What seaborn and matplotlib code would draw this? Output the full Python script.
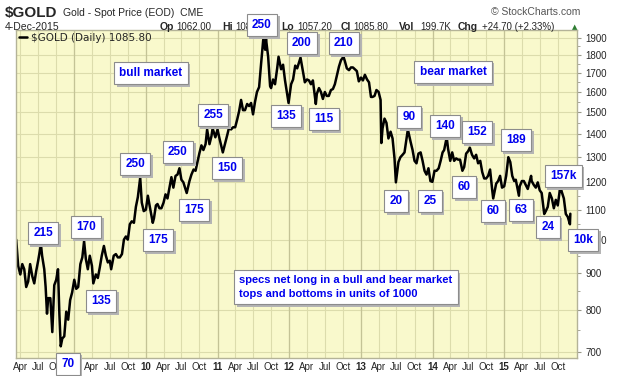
import matplotlib
matplotlib.use("Agg")
import matplotlib.pyplot as plt
import matplotlib.dates as mdates
from matplotlib.patches import Rectangle
from matplotlib.ticker import NullFormatter
import pandas as pd
import seaborn as sns

# gold spot (approx. three points a month)
gold_2008 = [("2008-03-11", 1000), ("2008-03-21", 920), ("2008-04-01", 895), ("2008-04-11", 925),
             ("2008-04-21", 910), ("2008-05-01", 860), ("2008-05-11", 875), ("2008-05-21", 925),
             ("2008-06-01", 890), ("2008-06-11", 870), ("2008-06-21", 905), ("2008-07-01", 935),
             ("2008-07-08", 960), ("2008-07-15", 985), ("2008-07-21", 950), ("2008-08-01", 910),
             ("2008-08-08", 860), ("2008-08-15", 790), ("2008-08-21", 830), ("2008-09-01", 830),
             ("2008-09-11", 745), ("2008-09-21", 865), ("2008-10-01", 880), ("2008-10-10", 910),
             ("2008-10-17", 790), ("2008-10-24", 712), ("2008-11-01", 730), ("2008-11-11", 735),
             ("2008-11-21", 795), ("2008-12-01", 775), ("2008-12-11", 825), ("2008-12-21", 845)]
gold_2009 = [("2009-01-01", 880), ("2009-01-11", 855), ("2009-01-21", 860), ("2009-02-01", 925),
             ("2009-02-11", 945), ("2009-02-20", 995), ("2009-03-01", 940), ("2009-03-11", 910),
             ("2009-03-21", 950), ("2009-04-01", 920), ("2009-04-08", 870), ("2009-04-21", 895),
             ("2009-05-01", 885), ("2009-05-11", 915), ("2009-05-21", 950), ("2009-06-01", 980),
             ("2009-06-11", 950), ("2009-06-21", 930), ("2009-07-01", 935), ("2009-07-08", 910),
             ("2009-07-21", 950), ("2009-08-01", 955), ("2009-08-11", 945), ("2009-08-21", 945),
             ("2009-09-01", 955), ("2009-09-11", 1000), ("2009-09-21", 1010), ("2009-10-01", 1000),
             ("2009-10-11", 1050), ("2009-10-21", 1060), ("2009-11-01", 1055), ("2009-11-11", 1110),
             ("2009-11-21", 1145), ("2009-12-03", 1218), ("2009-12-11", 1125), ("2009-12-21", 1095)]
gold_2010 = [("2010-01-01", 1100), ("2010-01-11", 1150), ("2010-01-21", 1110), ("2010-02-05", 1055),
             ("2010-02-11", 1070), ("2010-02-21", 1115), ("2010-03-01", 1120), ("2010-03-11", 1105),
             ("2010-03-21", 1105), ("2010-04-01", 1125), ("2010-04-11", 1155), ("2010-04-21", 1140),
             ("2010-05-01", 1180), ("2010-05-11", 1220), ("2010-05-21", 1180), ("2010-06-01", 1225),
             ("2010-06-11", 1230), ("2010-06-21", 1255), ("2010-07-01", 1210), ("2010-07-11", 1200),
             ("2010-07-28", 1160), ("2010-08-11", 1205), ("2010-08-21", 1230), ("2010-09-01", 1250),
             ("2010-09-11", 1245), ("2010-09-21", 1280), ("2010-10-01", 1318), ("2010-10-11", 1350),
             ("2010-10-21", 1330), ("2010-11-01", 1355), ("2010-11-09", 1420), ("2010-11-21", 1355),
             ("2010-12-01", 1390), ("2010-12-07", 1425), ("2010-12-21", 1385)]
gold_2011 = [("2011-01-01", 1420), ("2011-01-11", 1380), ("2011-01-28", 1320), ("2011-02-11", 1365),
             ("2011-02-21", 1400), ("2011-03-01", 1430), ("2011-03-11", 1420), ("2011-03-21", 1430),
             ("2011-04-01", 1430), ("2011-04-11", 1465), ("2011-04-21", 1505), ("2011-05-01", 1560),
             ("2011-05-11", 1510), ("2011-05-21", 1510), ("2011-06-01", 1540), ("2011-06-11", 1530),
             ("2011-06-21", 1545), ("2011-07-01", 1490), ("2011-07-11", 1550), ("2011-07-21", 1600),
             ("2011-08-01", 1625), ("2011-08-11", 1750), ("2011-08-22", 1890), ("2011-09-01", 1830),
             ("2011-09-05", 1895), ("2011-09-16", 1790), ("2011-09-26", 1630), ("2011-10-01", 1620),
             ("2011-10-11", 1665), ("2011-10-21", 1640), ("2011-11-01", 1725), ("2011-11-08", 1790),
             ("2011-11-21", 1720), ("2011-12-01", 1745), ("2011-12-11", 1660), ("2011-12-29", 1545)]
gold_2012 = [("2012-01-11", 1640), ("2012-01-21", 1665), ("2012-02-01", 1740), ("2012-02-11", 1725),
             ("2012-02-28", 1785), ("2012-03-11", 1710), ("2012-03-21", 1650), ("2012-04-01", 1665),
             ("2012-04-11", 1660), ("2012-04-21", 1640), ("2012-05-01", 1660), ("2012-05-16", 1540),
             ("2012-05-21", 1590), ("2012-06-01", 1620), ("2012-06-11", 1600), ("2012-06-21", 1565),
             ("2012-07-01", 1600), ("2012-07-11", 1580), ("2012-07-21", 1580), ("2012-08-01", 1610),
             ("2012-08-11", 1615), ("2012-08-21", 1640), ("2012-09-01", 1690), ("2012-09-11", 1735),
             ("2012-09-21", 1770), ("2012-10-04", 1790), ("2012-10-11", 1765), ("2012-10-21", 1725),
             ("2012-11-01", 1715), ("2012-11-11", 1730), ("2012-11-21", 1730), ("2012-12-01", 1720),
             ("2012-12-11", 1710), ("2012-12-21", 1655)]
gold_2013 = [("2013-01-01", 1675), ("2013-01-11", 1660), ("2013-01-21", 1690), ("2013-02-01", 1665),
             ("2013-02-11", 1650), ("2013-02-21", 1575), ("2013-03-01", 1575), ("2013-03-11", 1580),
             ("2013-03-21", 1610), ("2013-04-01", 1600), ("2013-04-11", 1560), ("2013-04-15", 1360),
             ("2013-04-21", 1425), ("2013-05-01", 1470), ("2013-05-11", 1450), ("2013-05-21", 1380),
             ("2013-06-01", 1410), ("2013-06-11", 1380), ("2013-06-21", 1295), ("2013-06-28", 1200),
             ("2013-07-11", 1280), ("2013-07-21", 1300), ("2013-08-01", 1310), ("2013-08-11", 1320),
             ("2013-08-28", 1420), ("2013-09-11", 1365), ("2013-09-21", 1330), ("2013-10-01", 1285),
             ("2013-10-11", 1275), ("2013-10-21", 1315), ("2013-11-01", 1320), ("2013-11-11", 1285),
             ("2013-11-21", 1245), ("2013-12-01", 1230), ("2013-12-11", 1255), ("2013-12-21", 1205),
             ("2013-12-31", 1202)]
gold_2014 = [("2014-01-11", 1245), ("2014-01-21", 1245), ("2014-02-01", 1255), ("2014-02-11", 1285),
             ("2014-02-21", 1320), ("2014-03-01", 1330), ("2014-03-14", 1385), ("2014-03-21", 1335),
             ("2014-04-01", 1285), ("2014-04-11", 1320), ("2014-04-21", 1285), ("2014-05-01", 1295),
             ("2014-05-11", 1290), ("2014-05-21", 1290), ("2014-06-02", 1245), ("2014-06-11", 1260),
             ("2014-06-21", 1315), ("2014-07-01", 1325), ("2014-07-10", 1340), ("2014-07-21", 1310),
             ("2014-08-01", 1295), ("2014-08-11", 1310), ("2014-08-21", 1275), ("2014-09-01", 1285),
             ("2014-09-11", 1240), ("2014-09-21", 1215), ("2014-10-01", 1215), ("2014-10-11", 1225),
             ("2014-10-21", 1250), ("2014-11-01", 1170), ("2014-11-06", 1140), ("2014-11-21", 1195),
             ("2014-12-01", 1205), ("2014-12-11", 1225), ("2014-12-21", 1180)]
gold_2015 = [("2015-01-01", 1185), ("2015-01-11", 1225), ("2015-01-22", 1300), ("2015-02-01", 1280),
             ("2015-02-11", 1225), ("2015-02-21", 1205), ("2015-03-01", 1210), ("2015-03-17", 1150),
             ("2015-03-21", 1185), ("2015-04-01", 1205), ("2015-04-11", 1205), ("2015-04-21", 1190),
             ("2015-05-01", 1175), ("2015-05-18", 1225), ("2015-05-21", 1205), ("2015-06-01", 1190),
             ("2015-06-11", 1180), ("2015-06-21", 1200), ("2015-07-01", 1170), ("2015-07-11", 1160),
             ("2015-07-24", 1085), ("2015-08-01", 1095), ("2015-08-11", 1110), ("2015-08-21", 1160),
             ("2015-09-01", 1140), ("2015-09-11", 1105), ("2015-09-21", 1135), ("2015-10-01", 1115),
             ("2015-10-14", 1185), ("2015-10-21", 1165), ("2015-11-01", 1140), ("2015-11-11", 1085),
             ("2015-11-21", 1075), ("2015-12-02", 1050), ("2015-12-04", 1085.8)]

# specs net long, in thousands of contracts, at the tops and bottoms
spec_labels = ["215", "170", "135", "70", "250", "175", "250", "175", "255", "150",
               "250", "200", "210", "135", "115", "20", "90", "25", "140", "60",
               "152", "60", "189", "63", "24", "157k", "10k"]
# box centres in pixels of the 620x376 image
spec_pos = [(43, 233), (86, 227), (101, 301), (68, 364), (135, 164), (158, 240), (178, 152),
            (194, 210), (213, 115), (227, 168), (262, 25), (302, 43), (344, 43), (286, 116),
            (324, 119), (396, 201), (409, 117), (430, 201), (445, 126), (464, 187), (477, 132),
            (493, 211), (516, 140), (521, 210), (548, 227), (563, 176), (583, 240)]

price_ticks = list(range(700, 2000, 100))
W, H = 620, 376

rows = gold_2008 + gold_2009 + gold_2010 + gold_2011 + gold_2012 + gold_2013 + gold_2014 + gold_2015
df = pd.DataFrame(rows, columns=["date", "price"])
df["date"] = pd.to_datetime(df["date"])

sns.set_style("white")
plt.rcParams["font.family"] = ["Liberation Sans", "DejaVu Sans"]

fig = plt.figure(figsize=(W / 100, H / 100), dpi=100)
ax = fig.add_axes([16 / W, 1 - 358 / H, 561 / W, 328 / H])
ax.set_facecolor("#f9f9cc")

sns.lineplot(data=df, x="date", y="price", ax=ax, color="black", lw=1.8,
             label=r"\$GOLD (Daily) 1085.80")

ax.set_yscale("log")
ax.set_ylim(686, 1949)
ax.set_xlim(pd.Timestamp("2008-03-10"), pd.Timestamp("2016-01-07"))

# x axis: quarters, with the year in bold at each January
xt, xl, is_year = [], [], []
for yr in range(2008, 2016):
    for m in (1, 4, 7, 10):
        d = pd.Timestamp(yr, m, 1)
        if d < pd.Timestamp("2008-03-10"):
            continue
        xt.append(mdates.date2num(d))
        xl.append(f"{yr % 100:02d}" if m == 1 else d.strftime("%b"))
        is_year.append(m == 1)
ax.set_xticks(xt)
ax.set_xticklabels(xl)
for lbl, yflag in zip(ax.get_xticklabels(), is_year):
    if yflag:
        lbl.set_fontweight("bold")
        lbl.set_fontsize(8.5)
ax.tick_params(axis="x", length=0, pad=3, labelsize=7)

ax.yaxis.tick_right()
ax.set_yticks(price_ticks)
ax.set_yticklabels([str(v) for v in price_ticks])
ax.set_yticks([v + 50 for v in price_ticks[:-1]], minor=True)
ax.yaxis.set_minor_formatter(NullFormatter())
ax.tick_params(axis="y", which="major", length=3, color="#999988", labelsize=7, pad=3)
ax.tick_params(axis="y", which="minor", length=2, color="#999988")
ax.set_xlabel("")
ax.set_ylabel("")

ax.set_axisbelow(True)
ax.grid(axis="y", which="major", color="#dcdcac", lw=0.8)
ax.grid(axis="x", color="#dcdcac", lw=0.8)
for yr in range(2009, 2016):
    ax.axvline(pd.Timestamp(yr, 1, 1), color="#c4c396", lw=0.9, zorder=0.6)
for sp in ax.spines.values():
    sp.set_color("#b4b398")
    sp.set_linewidth(1)

ax.legend(loc="upper left", frameon=False, prop={"family": "DejaVu Sans", "size": 7.5},
          handlelength=0.8, handletextpad=0.4, borderaxespad=0.15, borderpad=0.1)

# header
fig.text(5 / W, 1 - 13 / H, r"\$GOLD", fontsize=11, weight="bold", va="center")
fig.text(63 / W, 1 - 13 / H, "Gold - Spot Price (EOD)  CME", fontsize=7.5, va="center")
fig.text(580 / W, 1 - 12 / H, "© StockCharts.com", fontsize=7.5, va="center", ha="right", color="#555555")
fig.text(5 / W, 1 - 27 / H, "4-Dec-2015", fontsize=7.5, va="center")
stats_bits = [("Op", 160, True), ("1062.00", 176, False), ("Hi", 222, True), ("1088.90", 235, False),
              ("Lo", 281, True), ("1057.20", 297, False), ("Cl", 341, True), ("1085.80", 353, False),
              ("Vol", 399, True), ("199.7K", 420, False), ("Chg", 458, True),
              ("+24.70 (+2.33%)", 482, False)]
for txt, x, bold in stats_bits:
    fig.text(x / W, 1 - 27 / H, txt, fontsize=7.5 if bold else 7, va="center",
             weight="bold" if bold else "normal")
fig.text(572 / W, 1 - 27 / H, "▲", fontsize=5, va="center", color="#2e7d32",
         family=["DejaVu Sans"])

# annotation boxes
boxes = []


def boxed(x, y, txt, fs=8.5, **kw):
    t = fig.text(x / W, 1 - y / H, txt, color="#0000ee", fontsize=fs, weight="bold",
                 ha="center", va="center", zorder=6,
                 bbox=dict(boxstyle="square,pad=0.45", fc="white", ec="#8c8c8c", lw=0.8), **kw)
    boxes.append(t)


for txt, (x, y) in zip(spec_labels, spec_pos):
    boxed(x, y, txt)
boxed(151, 73, "bull market")
boxed(453, 72, "bear market")
boxed(346, 287, "specs net long in a bull and bear market\ntops and bottoms in units of 1000",
      fs=8, multialignment="left", linespacing=1.5)

# grey drop shadow behind each box
fig.canvas.draw()
for t in boxes:
    bb = t.get_bbox_patch().get_window_extent()
    fig.patches.append(Rectangle((bb.x0 + 2.5, bb.y0 - 2.5), bb.width, bb.height,
                                 transform=None, fc="#b4b4b4", ec="none", zorder=5,
                                 figure=fig))

fig.savefig("out.png", dpi=100)
